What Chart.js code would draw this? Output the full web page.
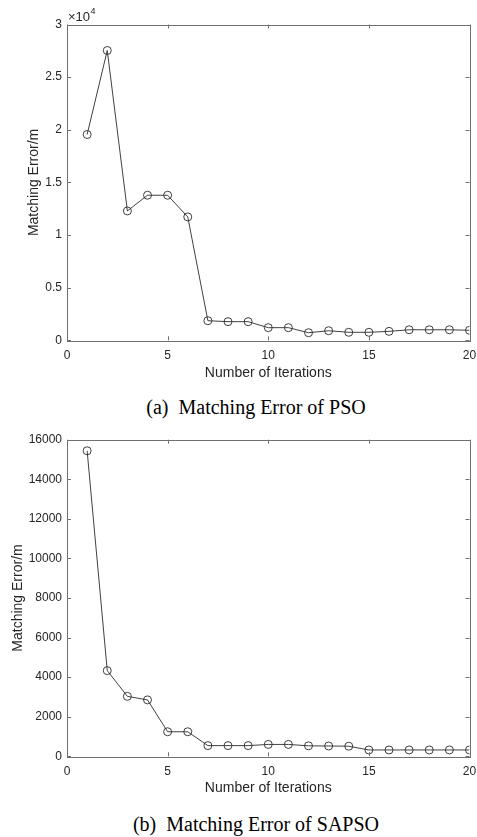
<!DOCTYPE html>
<html>
<head>
<meta charset="utf-8">
<script src="https://cdn.jsdelivr.net/npm/chart.js@4"></script>
<style>
  html, body { margin: 0; padding: 0; background: #fff; }
  body { width: 477px; height: 837px; position: relative; overflow: hidden; }
  .box { position: absolute; left: 0; width: 477px; height: 390px; }
  .caption {
    position: absolute; transform: translateX(-50%);
    font-family: "Liberation Serif", "Times New Roman", serif;
    font-size: 20px; line-height: 22px; color: #000; white-space: pre;
  }
</style>
</head>
<body>
<div class="box" style="top:0"><canvas id="psoChart" width="477" height="390"></canvas></div>
<div class="caption" style="left:256px; top:396px">(a)  Matching Error of PSO</div>
<div class="box" style="top:410px"><canvas id="sapsoChart" width="477" height="390"></canvas></div>
<div class="caption" style="left:256px; top:813px">(b)  Matching Error of SAPSO</div>

<script>
// iterations 1..20
const iterations = [1, 2, 3, 4, 5, 6, 7, 8, 9, 10, 11, 12, 13, 14, 15, 16, 17, 18, 19, 20];

// matching error of PSO (metres)
const psoError = [19550, 27530, 12290, 13780, 13780, 11720, 1860, 1770, 1770, 1200,
                  1200, 720, 910, 760, 760, 850, 1000, 1000, 1000, 950];

// matching error of SAPSO (metres)
const sapsoError = [15440, 4330, 3030, 2850, 1240, 1240, 540, 540, 540, 600,
                    600, 530, 520, 510, 320, 320, 320, 320, 320, 320];

const xTicks = [0, 5, 10, 15, 20];
const psoYTicks = [0, 5000, 10000, 15000, 20000, 25000, 30000];
const sapsoYTicks = [0, 2000, 4000, 6000, 8000, 10000, 12000, 14000, 16000];

const TEXT = '#262626';
const AXIS = '#707070';
const FONT = 'Liberation Sans, Arial, Helvetica, sans-serif';

// MATLAB-like box with inward ticks on all four sides
const boxPlugin = {
    id: 'matlabBox',
    afterDraw(chart, args, opts) {
        const { ctx, chartArea: a, scales } = chart;
        ctx.save();
        ctx.strokeStyle = AXIS;
        ctx.lineWidth = 1;
        ctx.strokeRect(Math.round(a.left) + 0.5, Math.round(a.top) + 0.5,
                       Math.round(a.right - a.left), Math.round(a.bottom - a.top));
        ctx.beginPath();
        const tl = 4;
        scales.x.ticks.forEach(t => {
            const px = Math.round(scales.x.getPixelForValue(t.value)) + 0.5;
            ctx.moveTo(px, a.bottom); ctx.lineTo(px, a.bottom - tl);
            ctx.moveTo(px, a.top); ctx.lineTo(px, a.top + tl);
        });
        scales.y.ticks.forEach(t => {
            const py = Math.round(scales.y.getPixelForValue(t.value)) + 0.5;
            ctx.moveTo(a.left, py); ctx.lineTo(a.left + tl, py);
            ctx.moveTo(a.right, py); ctx.lineTo(a.right - tl, py);
        });
        ctx.stroke();

        // exponent label above the y axis
        if (opts.exponent) {
            ctx.fillStyle = TEXT;
            ctx.textBaseline = 'middle';
            ctx.textAlign = 'left';
            ctx.font = '13px ' + FONT;
            ctx.fillText('\u00d710', a.left + 1, a.top - 7);
            const w = ctx.measureText('\u00d710').width;
            ctx.font = '9px ' + FONT;
            ctx.fillText(opts.exponent, a.left + 1 + w + 0.5, a.top - 12.5);
        }
        ctx.restore();
    }
};

function makeChart(id, values, yMax, yTicks, yFormat, opts) {
    const points = iterations.map((x, i) => ({ x: x, y: values[i] }));
    return new Chart(document.getElementById(id), {
        type: 'line',
        data: {
            datasets: [{
                data: points,
                borderColor: '#2b2b2b',
                borderWidth: 0.9,
                pointStyle: 'circle',
                pointRadius: 4,
                pointBorderWidth: 0.9,
                pointBorderColor: '#2b2b2b',
                pointBackgroundColor: 'rgba(0,0,0,0)',
                tension: 0
            }]
        },
        options: {
            responsive: false,
            animation: false,
            events: [],
            layout: { padding: { top: opts.top, right: 7.5, left: 0, bottom: 0 } },
            plugins: { legend: { display: false }, tooltip: { enabled: false }, matlabBox: { exponent: opts.exponent } },
            scales: {
                x: {
                    type: 'linear', min: 0, max: 20,
                    afterBuildTicks: s => { s.ticks = xTicks.map(v => ({ value: v })); },
                    afterFit: s => { s.height = opts.xHeight; s.paddingLeft = 0; s.paddingRight = 0; },
                    grid: { display: false, drawTicks: false }, border: { display: false },
                    ticks: { color: TEXT, font: { family: FONT, size: 12 }, padding: 8, maxRotation: 0 },
                    title: { display: true, text: 'Number of Iterations', color: TEXT,
                             font: { family: FONT, size: 14 }, padding: { bottom: opts.xTitlePad } }
                },
                y: {
                    type: 'linear', min: 0, max: yMax,
                    afterBuildTicks: s => { s.ticks = yTicks.map(v => ({ value: v })); },
                    afterFit: s => { s.width = 67; s.paddingTop = 0; s.paddingBottom = 0; },
                    grid: { display: false, drawTicks: false }, border: { display: false },
                    ticks: { color: TEXT, font: { family: FONT, size: 12 }, padding: 5, callback: yFormat },
                    title: { display: true, text: 'Matching Error/m', color: TEXT,
                             font: { family: FONT, size: 14 }, padding: { top: opts.yTitlePad } }
                }
            }
        },
        plugins: [boxPlugin]
    });
}

makeChart('psoChart', psoError, 30000, psoYTicks, v => String(v / 10000),
          { top: 24.5, xHeight: 390 - 340.3, yTitlePad: 25.9, xTitlePad: 8.9, exponent: '4' });
makeChart('sapsoChart', sapsoError, 16000, sapsoYTicks, v => String(v),
          { top: 29.7, xHeight: 390 - 346.3, yTitlePad: 10.1, xTitlePad: 3.6 });
</script>
</body>
</html>
